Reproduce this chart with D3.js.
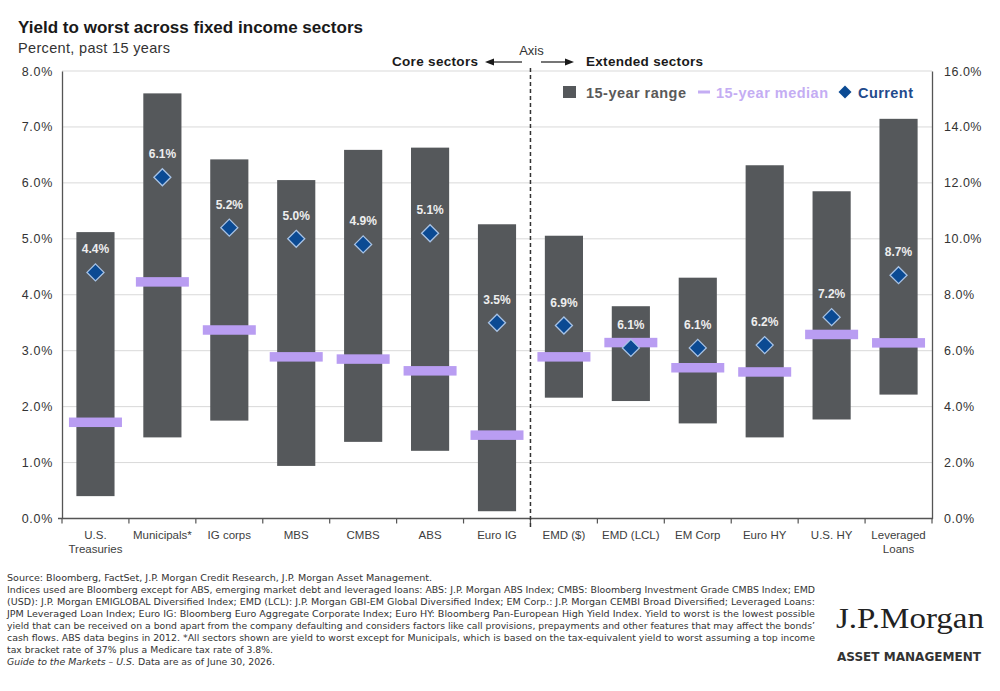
<!DOCTYPE html>
<html><head><meta charset="utf-8">
<script src="https://cdn.jsdelivr.net/npm/d3@7"></script>
<style>body{margin:0;background:#fff}svg{display:block}</style>
</head><body>
<svg id="c" width="1000" height="691"></svg>
<script>
// ---------------- data ----------------
const categories = ["U.S. Treasuries","Municipals*","IG corps","MBS","CMBS","ABS","Euro IG",
                    "EMD ($)","EMD (LCL)","EM Corp","Euro HY","U.S. HY","Leveraged Loans"];
const labelLines = [["U.S.","Treasuries"],["Municipals*"],["IG corps"],["MBS"],["CMBS"],["ABS"],["Euro IG"],
                    ["EMD ($)"],["EMD (LCL)"],["EM Corp"],["Euro HY"],["U.S. HY"],["Leveraged","Loans"]];
const axisSide = ["left","left","left","left","left","left","left","right","right","right","right","right","right"];
const rangeLow  = [0.40, 1.45, 1.75, 0.94, 1.37, 1.21, 0.13, 4.32, 4.20, 3.40, 2.90, 3.54, 4.43];
const rangeHigh = [5.12, 7.60, 6.42, 6.05, 6.59, 6.63, 5.26, 10.11, 7.59, 8.61, 12.63, 11.70, 14.29];
const median    = [1.72, 4.23, 3.37, 2.89, 2.85, 2.64, 1.49, 5.78, 6.29, 5.39, 5.24, 6.58, 6.28];
const current   = [4.4, 6.1, 5.2, 5.0, 4.9, 5.1, 3.5, 6.9, 6.1, 6.1, 6.2, 7.2, 8.7];
const leftTicks  = [0,1,2,3,4,5,6,7,8];
const rightTicks = [0,2,4,6,8,10,12,14,16];
const footLines = [
 "Source: Bloomberg, FactSet, J.P. Morgan Credit Research, J.P. Morgan Asset Management.",
 "Indices used are Bloomberg except for ABS, emerging market debt and leveraged loans: ABS: J.P. Morgan ABS Index; CMBS: Bloomberg Investment Grade CMBS Index; EMD",
 "(USD): J.P. Morgan EMIGLOBAL Diversified Index; EMD (LCL): J.P. Morgan GBI-EM Global Diversified Index; EM Corp.: J.P. Morgan CEMBI Broad Diversified; Leveraged Loans:",
 "JPM Leveraged Loan Index; Euro IG: Bloomberg Euro Aggregate Corporate Index; Euro HY: Bloomberg Pan-European High Yield Index. Yield to worst is the lowest possible",
 "yield that can be received on a bond apart from the company defaulting and considers factors like call provisions, prepayments and other features that may affect the bonds’",
 "cash flows. ABS data begins in 2012. *All sectors shown are yield to worst except for Municipals, which is based on the tax-equivalent yield to worst assuming a top income",
 "tax bracket rate of 37% plus a Medicare tax rate of 3.8%."
];
const footWidths = [425, 808, 808, 808, 808, 808, 266];

// ---------------- layout ----------------
const svg = d3.select("#c");
const L = 62, R = 932, T = 71, B = 518.5;
const FONT = "'Liberation Sans', Arial, sans-serif";
const x = d3.scaleBand().domain(categories).range([L, R]).paddingInner(0.43).paddingOuter(0.215);
const step = x.step();
const yL = d3.scaleLinear().domain([0, 8]).range([B, T]);
const yR = d3.scaleLinear().domain([0, 16]).range([B, T]);
const yOf = (i, v) => axisSide[i] === "left" ? yL(v) : yR(v);
const fmt = v => d3.format(".1f")(v) + "%";

// title
svg.append("text").attr("x", 18).attr("y", 33).attr("font-family", FONT).attr("font-weight", "bold")
  .attr("font-size", 17).attr("fill", "#1a1a1a").attr("textLength", 345).attr("lengthAdjust","spacingAndGlyphs")
  .text("Yield to worst across fixed income sectors");
svg.append("text").attr("x", 18).attr("y", 53).attr("font-family", FONT)
  .attr("font-size", 14.5).attr("fill", "#333").attr("textLength", 152)
  .text("Percent, past 15 years");

// gridlines
svg.append("g").selectAll("line").data(leftTicks.filter(d => d > 0)).join("line")
  .attr("x1", L).attr("x2", R).attr("y1", d => yL(d)).attr("y2", d => yL(d))
  .attr("stroke", "#d9d9d9").attr("stroke-width", 1);

// left axis
const gL = svg.append("g").attr("transform", `translate(${L},0)`)
  .call(d3.axisLeft(yL).tickValues(leftTicks).tickFormat(fmt).tickSize(0).tickPadding(9));
gL.select(".domain").attr("stroke", "#555").attr("stroke-width", 1.3);
gL.selectAll("text").attr("font-family", FONT).attr("font-size", 12.5).attr("fill", "#333").attr("letter-spacing", 0.7);

// right axis
const gR = svg.append("g").attr("transform", `translate(${R},0)`)
  .call(d3.axisRight(yR).tickValues(rightTicks).tickFormat(fmt).tickSize(0).tickPadding(12));
gR.select(".domain").attr("stroke", "#555").attr("stroke-width", 1.3);
gR.selectAll("text").attr("font-family", FONT).attr("font-size", 12.5).attr("fill", "#333").attr("letter-spacing", 0.5);

// bottom axis
svg.append("line").attr("x1", L - 4).attr("x2", R + 1).attr("y1", B).attr("y2", B).attr("stroke", "#555").attr("stroke-width", 1.3);
const bounds = d3.range(categories.length + 1).map(i => L + i * step);
svg.append("g").selectAll("line").data(bounds).join("line")
  .attr("x1", d => d).attr("x2", d => d).attr("y1", B).attr("y2", B + 5)
  .attr("stroke", "#555").attr("stroke-width", 1.2);
const xl = svg.append("g").selectAll("text").data(categories).join("text")
  .attr("x", d => x(d) + x.bandwidth() / 2).attr("y", 538.5)
  .attr("text-anchor", "middle").attr("font-family", FONT).attr("font-size", 11.5).attr("fill", "#404040");
xl.each(function(d, i) {
  const t = d3.select(this);
  labelLines[i].forEach((s, k) => t.append("tspan").attr("x", x(d) + x.bandwidth() / 2).attr("dy", k ? 14 : 0).text(s));
});

// dashed divider
const divX = L + 7 * step;
svg.append("line").attr("x1", divX).attr("x2", divX).attr("y1", 68).attr("y2", B + 10)
  .attr("stroke", "#333").attr("stroke-width", 1.5).attr("stroke-dasharray", "4,3");

// bars
const bw = x.bandwidth();
svg.append("g").selectAll("rect").data(categories).join("rect")
  .attr("x", d => x(d)).attr("width", bw)
  .attr("y", (d, i) => yOf(i, rangeHigh[i]))
  .attr("height", (d, i) => yOf(i, rangeLow[i]) - yOf(i, rangeHigh[i]))
  .attr("fill", "#55585b");

// medians
const mw = 53, mh = 9.5;
svg.append("g").selectAll("rect").data(categories).join("rect")
  .attr("x", d => x(d) + bw / 2 - mw / 2).attr("width", mw)
  .attr("y", (d, i) => yOf(i, median[i]) - mh / 2).attr("height", mh)
  .attr("fill", "#b99df2");

// current diamonds
const dh = 8.5;
const diamond = (cx, cy, h) => `M${cx},${cy - h}L${cx + h},${cy}L${cx},${cy + h}L${cx - h},${cy}Z`;
svg.append("g").selectAll("path").data(categories).join("path")
  .attr("d", (d, i) => diamond(x(d) + bw / 2, yOf(i, current[i]), dh))
  .attr("fill", "#0b4a93").attr("stroke", "#a8c3e6").attr("stroke-width", 1.3);

// value labels
svg.append("g").selectAll("text").data(categories).join("text")
  .attr("x", d => x(d) + bw / 2).attr("y", (d, i) => yOf(i, current[i]) - 19)
  .attr("text-anchor", "middle").attr("font-family", FONT).attr("font-weight", "bold")
  .attr("font-size", 12).attr("fill", "#eeeeee")
  .text((d, i) => d3.format(".1f")(current[i]) + "%");

// Axis / sector annotations
svg.append("text").attr("x", divX + 1).attr("y", 55).attr("text-anchor", "middle").attr("font-family", FONT)
  .attr("font-size", 13).attr("fill", "#333").text("Axis");
svg.append("text").attr("x", 478).attr("y", 66).attr("text-anchor", "end").attr("font-family", FONT)
  .attr("font-weight", "bold").attr("font-size", 13.5).attr("fill", "#1a1a1a").attr("textLength", 86).text("Core sectors");
svg.append("text").attr("x", 586).attr("y", 66).attr("font-family", FONT)
  .attr("font-weight", "bold").attr("font-size", 13.5).attr("fill", "#1a1a1a").attr("textLength", 117).text("Extended sectors");
svg.append("line").attr("x1", 522).attr("x2", 492).attr("y1", 62).attr("y2", 62).attr("stroke", "#1a1a1a").attr("stroke-width", 1.2);
svg.append("path").attr("d", "M485,62L494,58.5L494,65.5Z").attr("fill", "#1a1a1a");
svg.append("line").attr("x1", 541).attr("x2", 566).attr("y1", 62).attr("y2", 62).attr("stroke", "#1a1a1a").attr("stroke-width", 1.2);
svg.append("path").attr("d", "M574,62L565,58.5L565,65.5Z").attr("fill", "#1a1a1a");

// legend
const lg = svg.append("g");
lg.append("rect").attr("x", 563).attr("y", 86).attr("width", 13).attr("height", 12).attr("fill", "#55585b");
lg.append("text").attr("x", 586).attr("y", 97.5).attr("font-family", FONT).attr("font-weight", "bold")
  .attr("font-size", 14.5).attr("fill", "#595959").attr("textLength", 100).text("15-year range");
lg.append("rect").attr("x", 698).attr("y", 90.5).attr("width", 12).attr("height", 3).attr("fill", "#c4adf3");
lg.append("text").attr("x", 716).attr("y", 97.5).attr("font-family", FONT).attr("font-weight", "bold")
  .attr("font-size", 14.5).attr("fill", "#c4adf3").attr("textLength", 112).text("15-year median");
lg.append("path").attr("d", diamond(845, 92, 6.5)).attr("fill", "#0b4a93");
lg.append("text").attr("x", 858).attr("y", 97.5).attr("font-family", FONT).attr("font-weight", "bold")
  .attr("font-size", 14.5).attr("fill", "#1f4a8c").attr("textLength", 55).text("Current");

// footnotes
const FF = "'Liberation Sans Narrow','DejaVu Sans Condensed','Liberation Sans',Arial,sans-serif";
const fg = svg.append("g").attr("font-family", FF).attr("font-size", 9.5).attr("fill", "#333");
footLines.forEach((s, i) => {
  fg.append("text").attr("x", 7).attr("y", 581 + i * 12).attr("textLength", footWidths[i])
    .attr("lengthAdjust", "spacingAndGlyphs").text(s);
});
const gl = fg.append("text").attr("x", 7).attr("y", 581 + 7 * 12).attr("textLength", 268).attr("lengthAdjust", "spacingAndGlyphs");
gl.append("tspan").attr("font-style", "italic").text("Guide to the Markets – U.S.");
gl.append("tspan").text(" Data are as of June 30, 2026.");

// logo
svg.append("text").attr("x", 836).attr("y", 628).attr("font-family", "'Liberation Serif','DejaVu Serif',serif")
  .attr("font-size", 29).attr("fill", "#222").attr("textLength", 148).attr("lengthAdjust", "spacingAndGlyphs").text("J.P.Morgan");
svg.append("text").attr("x", 837).attr("y", 661).attr("font-family", FF).attr("font-weight", "bold")
  .attr("font-size", 12).attr("fill", "#333").attr("textLength", 144).attr("lengthAdjust", "spacingAndGlyphs").text("ASSET MANAGEMENT");
</script>
</body></html>
